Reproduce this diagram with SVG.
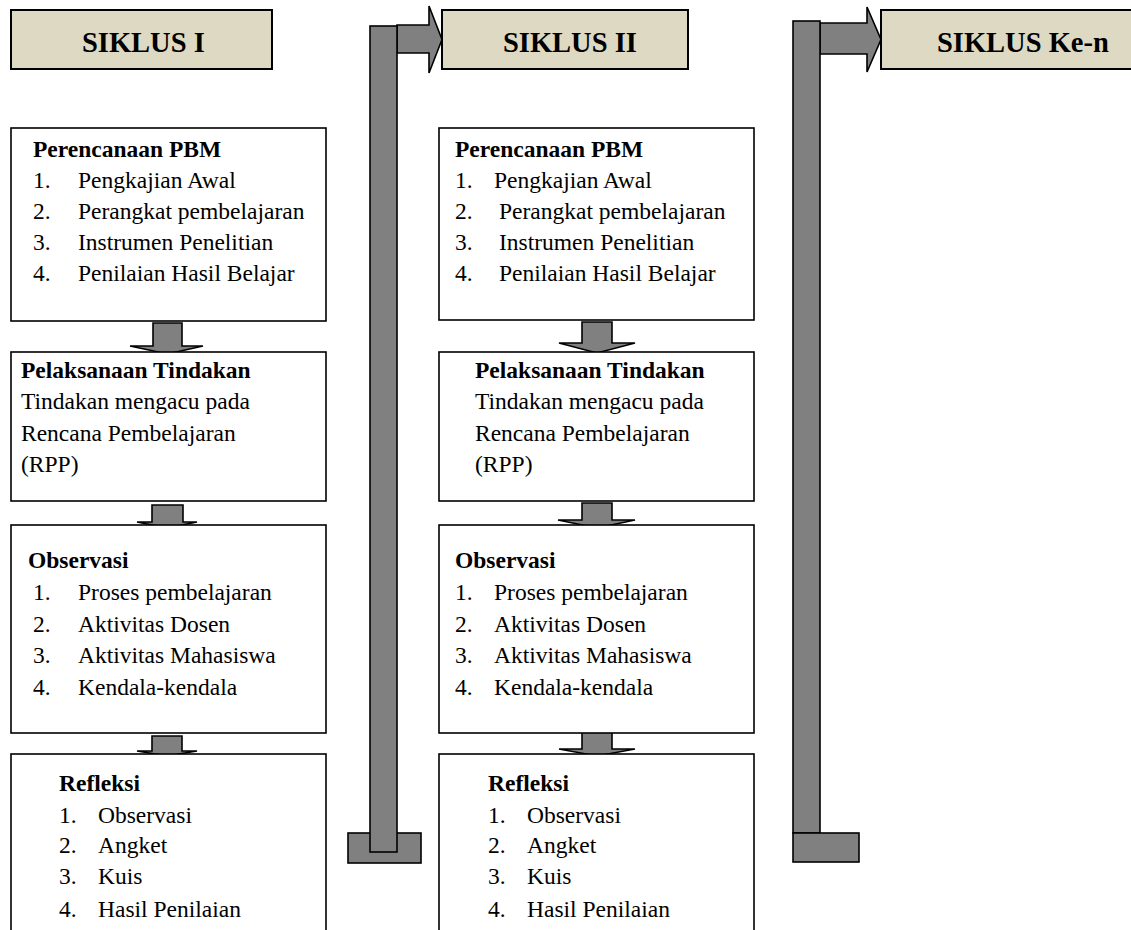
<svg xmlns="http://www.w3.org/2000/svg" width="1131" height="930" viewBox="0 0 1131 930">
<style>
.hdr{fill:#DDD9C3;stroke:#000;stroke-width:2}
.box{fill:#fff;stroke:#000;stroke-width:1.6}
.gr{fill:#808080;stroke:#000;stroke-width:1.6;stroke-linejoin:miter}
text{font-family:"Liberation Serif","Times New Roman",serif;fill:#000}
.h{font-size:28.5px;font-weight:bold}
.t{font-size:23.5px;font-weight:bold}
.b{font-size:23.5px}
</style>
<rect width="1131" height="930" fill="#fff"/>
<g id="connectors">
  <!-- connector 1 -->
  <rect class="gr" x="348" y="833" width="73" height="30"/>
  <polygon class="gr" points="397,25 429,25 429,6 442,39.5 429,73 429,53 397,53"/>
  <rect class="gr" x="370" y="26" width="27" height="826"/>
  <!-- connector 2 -->
  <polygon class="gr" points="820,23 867,23 867,7 881,39.5 867,72 867,54 820,54"/>
  <rect class="gr" x="793" y="21" width="27" height="812"/>
  <rect class="gr" x="793" y="833" width="66" height="29"/>
  <!-- down arrows col 1 -->
  <polygon class="gr" points="153,323 182,323 182,346 203,346 167.5,354 130,346 153,346"/>
  <polygon class="gr" points="152,505 183,505 183,522 197,522 167.5,528 137,522 152,522"/>
  <polygon class="gr" points="152,736 182,736 182,751 197,751 167,756 137,751 152,751"/>
  <!-- down arrows col 2 -->
  <polygon class="gr" points="582,322 612,322 612,343 635,343 597,353 559,343 582,343"/>
  <polygon class="gr" points="582,503 612,503 612,520 635,520 597,528 558,520 582,520"/>
  <polygon class="gr" points="582,731 612,731 612,749 635,749 597,756 559,749 582,749"/>
</g>
<g id="hdr1">
  <rect class="hdr" x="11" y="10" width="261" height="59"/>
  <text class="h" x="82" y="52">SIKLUS I</text>
</g>
<g id="hdr2">
  <rect class="hdr" x="442" y="10" width="246" height="59"/>
  <text class="h" x="503" y="52">SIKLUS II</text>
</g>
<g id="hdr3">
  <rect class="hdr" x="881" y="10" width="260" height="59"/>
  <text class="h" x="937" y="52">SIKLUS Ke-n</text>
</g>
<!-- Column 1 -->
<g id="c1-perencanaan">
  <rect class="box" x="11" y="128" width="315" height="193"/>
  <text class="t" x="33" y="157">Perencanaan PBM</text>
  <text class="b" x="33" y="188">1.</text><text class="b" x="78" y="188">Pengkajian Awal</text>
  <text class="b" x="33" y="219">2.</text><text class="b" x="78" y="219">Perangkat pembelajaran</text>
  <text class="b" x="33" y="250">3.</text><text class="b" x="78" y="250">Instrumen Penelitian</text>
  <text class="b" x="33" y="281">4.</text><text class="b" x="78" y="281">Penilaian Hasil Belajar</text>
</g>
<g id="c1-pelaksanaan">
  <rect class="box" x="11" y="352" width="315" height="149"/>
  <text class="t" x="21" y="378">Pelaksanaan Tindakan</text>
  <text class="b" x="21" y="409">Tindakan mengacu pada</text>
  <text class="b" x="21" y="441">Rencana Pembelajaran</text>
  <text class="b" x="21" y="472">(RPP)</text>
</g>
<g id="c1-observasi">
  <rect class="box" x="11" y="525" width="315" height="208"/>
  <text class="t" x="28" y="568">Observasi</text>
  <text class="b" x="33" y="600">1.</text><text class="b" x="78" y="600">Proses pembelajaran</text>
  <text class="b" x="33" y="632">2.</text><text class="b" x="78" y="632">Aktivitas Dosen</text>
  <text class="b" x="33" y="663">3.</text><text class="b" x="78" y="663">Aktivitas Mahasiswa</text>
  <text class="b" x="33" y="695">4.</text><text class="b" x="78" y="695">Kendala-kendala</text>
</g>
<g id="c1-refleksi">
  <rect class="box" x="11" y="754" width="315" height="200"/>
  <text class="t" x="59" y="791">Refleksi</text>
  <text class="b" x="59" y="823">1.</text><text class="b" x="98" y="823">Observasi</text>
  <text class="b" x="59" y="853">2.</text><text class="b" x="98" y="853">Angket</text>
  <text class="b" x="59" y="884">3.</text><text class="b" x="98" y="884">Kuis</text>
  <text class="b" x="59" y="917">4.</text><text class="b" x="98" y="917">Hasil Penilaian</text>
</g>
<!-- Column 2 -->
<g id="c2-perencanaan">
  <rect class="box" x="439" y="128" width="315" height="192"/>
  <text class="t" x="455" y="157">Perencanaan PBM</text>
  <text class="b" x="455" y="188">1.</text><text class="b" x="494" y="188">Pengkajian Awal</text>
  <text class="b" x="455" y="219">2.</text><text class="b" x="499" y="219">Perangkat pembelajaran</text>
  <text class="b" x="455" y="250">3.</text><text class="b" x="499" y="250">Instrumen Penelitian</text>
  <text class="b" x="455" y="281">4.</text><text class="b" x="499" y="281">Penilaian Hasil Belajar</text>
</g>
<g id="c2-pelaksanaan">
  <rect class="box" x="439" y="352" width="315" height="149"/>
  <text class="t" x="475" y="378">Pelaksanaan Tindakan</text>
  <text class="b" x="475" y="409">Tindakan mengacu pada</text>
  <text class="b" x="475" y="441">Rencana Pembelajaran</text>
  <text class="b" x="475" y="472">(RPP)</text>
</g>
<g id="c2-observasi">
  <rect class="box" x="439" y="525" width="315" height="208"/>
  <text class="t" x="455" y="568">Observasi</text>
  <text class="b" x="455" y="600">1.</text><text class="b" x="494" y="600">Proses pembelajaran</text>
  <text class="b" x="455" y="632">2.</text><text class="b" x="494" y="632">Aktivitas Dosen</text>
  <text class="b" x="455" y="663">3.</text><text class="b" x="494" y="663">Aktivitas Mahasiswa</text>
  <text class="b" x="455" y="695">4.</text><text class="b" x="494" y="695">Kendala-kendala</text>
</g>
<g id="c2-refleksi">
  <rect class="box" x="439" y="754" width="315" height="200"/>
  <text class="t" x="488" y="791">Refleksi</text>
  <text class="b" x="488" y="823">1.</text><text class="b" x="527" y="823">Observasi</text>
  <text class="b" x="488" y="853">2.</text><text class="b" x="527" y="853">Angket</text>
  <text class="b" x="488" y="884">3.</text><text class="b" x="527" y="884">Kuis</text>
  <text class="b" x="488" y="917">4.</text><text class="b" x="527" y="917">Hasil Penilaian</text>
</g>
</svg>
